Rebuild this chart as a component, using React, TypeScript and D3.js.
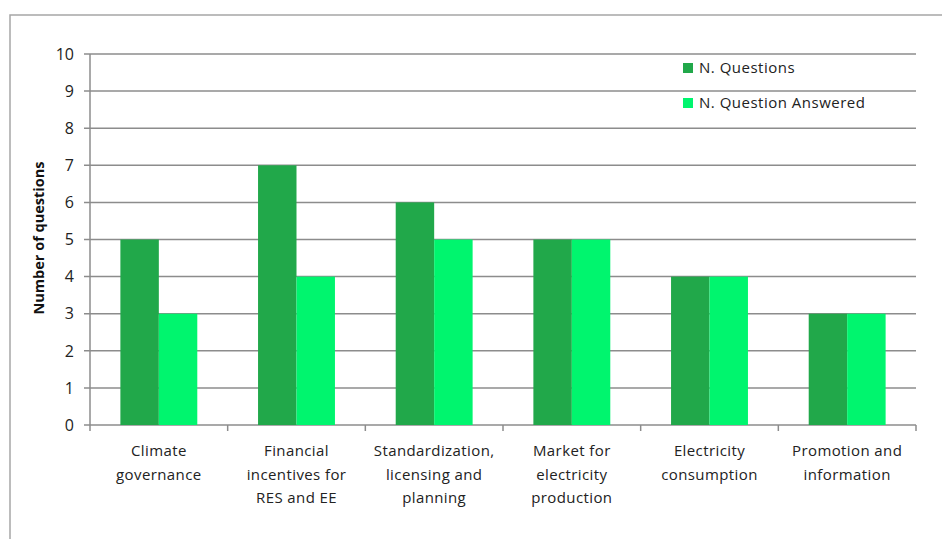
import React from "react";
import * as d3 from "d3";

const categories: string[][] = [
  ["Climate", "governance"],
  ["Financial", "incentives for", "RES and EE"],
  ["Standardization,", "licensing and", "planning"],
  ["Market for", "electricity", "production"],
  ["Electricity", "consumption"],
  ["Promotion and", "information"],
];
const seriesNames = ["N. Questions", "N. Question Answered"];
const questions = [5, 7, 6, 5, 4, 3];
const answered = [3, 4, 5, 5, 4, 3];
const seriesColors = ["#21a84a", "#00f56e"];
const yTicks = [0, 1, 2, 3, 4, 5, 6, 7, 8, 9, 10];

const W = 942;
const H = 539;
const FONT = "'Open Sans', sans-serif";

export default function App() {
  const left = 90, right = 916, top = 54, bottom = 425;
  const keys = categories.map((c) => c.join(" "));
  const x0 = d3.scaleBand<string>().domain(keys).range([left, right]).paddingInner(0).paddingOuter(0);
  const x1 = d3.scaleBand<string>().domain(seriesNames).range([0, x0.bandwidth()]).paddingInner(0).paddingOuter(0.79);
  const y = d3.scaleLinear().domain([0, 10]).range([bottom, top]);
  const values = [questions, answered];
  const tickEdges = keys.map((k) => x0(k)!).concat([right]);

  return (
    <svg width={W} height={H} style={{ position: "absolute", left: 0, top: 0, background: "#fff" }} fontFamily={FONT}>
      <rect x={10} y={15} width={1000} height={600} fill="#fff" stroke="#a6a6a6" strokeWidth={1.5} />
      {yTicks.map((t) => (
        <g key={t}>
          <line x1={84} x2={right} y1={y(t)} y2={y(t)} stroke="#8c8c8c" strokeWidth={1.5} />
          <text x={74} y={y(t)} dy="0.36em" textAnchor="end" fontSize={16} fill="#222">{t}</text>
        </g>
      ))}
      <line x1={left} x2={left} y1={top} y2={bottom} stroke="#8c8c8c" strokeWidth={1.5} />
      {tickEdges.map((e, i) => (
        <line key={i} x1={e} x2={e} y1={bottom} y2={bottom + 6} stroke="#8c8c8c" strokeWidth={1.5} />
      ))}
      {values.map((vals, si) =>
        vals.map((v, ci) => (
          <rect
            key={`${si}-${ci}`}
            x={x0(keys[ci])! + x1(seriesNames[si])!}
            y={y(v)}
            width={x1.bandwidth()}
            height={y(0) - y(v)}
            fill={seriesColors[si]}
          />
        ))
      )}
      {categories.map((lines, ci) => (
        <text key={ci} textAnchor="middle" fontSize={15} fill="#222" letterSpacing={0.4}>
          {lines.map((l, li) => (
            <tspan key={li} x={x0(keys[ci])! + x0.bandwidth() / 2} y={456 + li * 23.5}>{l}</tspan>
          ))}
        </text>
      ))}
      <text transform={`translate(44, 238) rotate(-90)`} textAnchor="middle" fontSize={14.5} fontWeight="bold" fill="#111">
        Number of questions
      </text>
      {seriesNames.map((s, i) => (
        <g key={s} transform={`translate(683, ${63 + i * 35})`}>
          <rect x={0} y={0} width={10} height={10} fill={seriesColors[i]} />
          <text x={16} y={10} fontSize={15} fill="#222" letterSpacing={0.5}>{s}</text>
        </g>
      ))}
    </svg>
  );
}
